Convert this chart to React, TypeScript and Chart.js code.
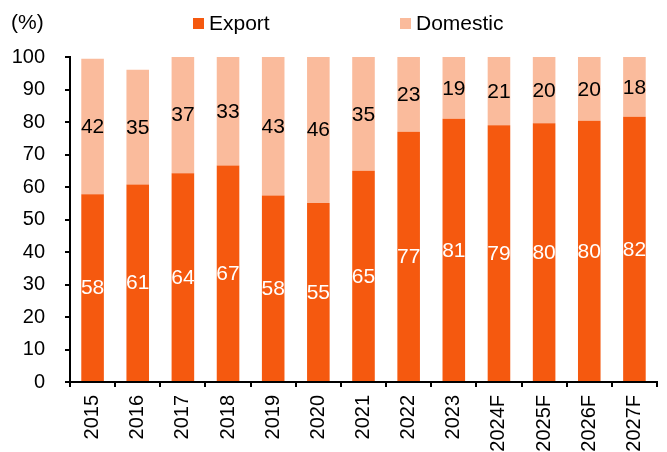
import React, { useEffect, useRef } from "react";
import { Chart, registerables } from "chart.js";

Chart.register(...registerables);

const categories = ["2015", "2016", "2017", "2018", "2019", "2020", "2021", "2022", "2023", "2024F", "2025F", "2026F", "2027F"];
const exportValues = [57.8, 60.8, 64.2, 66.6, 57.4, 55.1, 65, 77, 81, 79, 79.6, 80.4, 81.6];
const domesticValues = [41.7, 35.3, 36.6, 33.4, 42.6, 45.5, 35, 23, 19, 21, 20.4, 19.6, 18.4];
const exportLabels = ["58", "61", "64", "67", "58", "55", "65", "77", "81", "79", "80", "80", "82"];
const domesticLabels = ["42", "35", "37", "33", "43", "46", "35", "23", "19", "21", "20", "20", "18"];
const yTicks = [0, 10, 20, 30, 40, 50, 60, 70, 80, 90, 100];

const EXPORT_COLOR = "#F5590F";
const DOMESTIC_COLOR = "#FABB9C";
const FONT = '"Liberation Sans", Arial, sans-serif';

const labelPlugin = {
  id: "segLabels",
  afterDatasetsDraw(chart: any) {
    const ctx = chart.ctx;
    ctx.save();
    ctx.font = `21px ${FONT}`;
    ctx.textAlign = "center";
    ctx.textBaseline = "middle";
    const sets = [
      { idx: 0, labels: exportLabels, color: "#FFFFFF" },
      { idx: 1, labels: domesticLabels, color: "#000000" },
    ];
    sets.forEach((s) => {
      const meta = chart.getDatasetMeta(s.idx);
      meta.data.forEach((el: any, i: number) => {
        const yc = (el.y + el.base) / 2;
        ctx.fillStyle = s.color;
        ctx.fillText(s.labels[i], el.x, yc + 1);
      });
    });
    ctx.restore();
  },
  afterDraw(chart: any) {
    const ctx = chart.ctx;
    ctx.save();
    ctx.font = `21px ${FONT}`;
    ctx.textBaseline = "middle";
    ctx.fillStyle = "#000";
    ctx.textAlign = "left";
    ctx.fillText("(%)", 11, 23);
    const items = [
      { text: "Export", color: EXPORT_COLOR, x: 193 },
      { text: "Domestic", color: DOMESTIC_COLOR, x: 400 },
    ];
    items.forEach((it) => {
      ctx.fillStyle = it.color;
      ctx.fillRect(it.x, 18, 11, 11);
      ctx.fillStyle = "#000";
      ctx.fillText(it.text, it.x + 16, 24);
    });
    ctx.restore();
  },
};

export default function App() {
  const ref = useRef<HTMLCanvasElement | null>(null);
  useEffect(() => {
    if (!ref.current) return;
    const chart = new Chart(ref.current, {
      type: "bar",
      data: {
        labels: categories,
        datasets: [
          { label: "Export", data: exportValues, backgroundColor: EXPORT_COLOR, barPercentage: 0.5, categoryPercentage: 1 },
          { label: "Domestic", data: domesticValues, backgroundColor: DOMESTIC_COLOR, barPercentage: 0.5, categoryPercentage: 1 },
        ],
      },
      options: {
        animation: false,
        responsive: true,
        maintainAspectRatio: false,
        layout: { padding: { left: 0, top: 57, right: 10, bottom: 0 } },
        plugins: { legend: { display: false }, tooltip: { enabled: false } },
        scales: {
          x: {
            stacked: true,
            afterFit: (s: any) => { s.height = 70; },
            grid: { display: true, offset: true, drawOnChartArea: false, drawTicks: true, tickLength: 5, color: "#000", lineWidth: 2 },
            border: { display: true, color: "#000", width: 2 },
            ticks: { color: "#000", font: { family: FONT, size: 20 }, minRotation: 90, maxRotation: 90, padding: 8, autoSkip: false },
          },
          y: {
            stacked: true,
            min: 0,
            max: 100,
            afterFit: (s: any) => { s.width = 70; },
            afterBuildTicks: (s: any) => { s.ticks = yTicks.map((v) => ({ value: v })); },
            grid: { display: true, drawOnChartArea: false, drawTicks: true, tickLength: 5, color: "#000", lineWidth: 2 },
            border: { display: true, color: "#000", width: 2 },
            ticks: { color: "#000", font: { family: FONT, size: 20 }, padding: 20 },
          },
        },
      },
      plugins: [labelPlugin],
    });
    return () => chart.destroy();
  }, []);
  return (
    <div style={{ position: "fixed", left: 0, top: 0, width: 667, height: 452, background: "#fff" }}>
      <canvas ref={ref} />
    </div>
  );
}
